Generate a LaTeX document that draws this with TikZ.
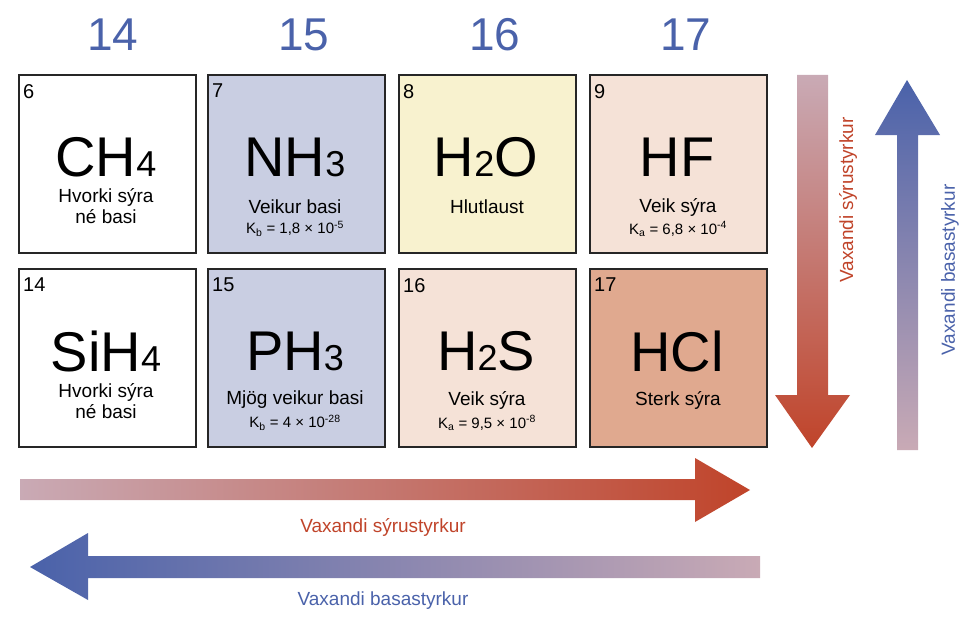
\documentclass[tikz,border=0pt]{standalone}
\usepackage{fontspec}
\setmainfont{Liberation Sans}
\usetikzlibrary{
  positioning,
  calc
}
\definecolor{grpblue}{HTML}{4A62AA}
\definecolor{acidred}{HTML}{C0442A}
\definecolor{pale}{HTML}{C9AAB5}
\definecolor{baseblue}{HTML}{C9CEE2}
\definecolor{neutral}{HTML}{F8F2CF}
\definecolor{weakacid}{HTML}{F5E2D7}
\definecolor{strongacid}{HTML}{E0A98F}
\newcommand{\lowidx}[1]{{\fontsize{36}{36}\selectfont #1}}

\begin{document}
\begin{tikzpicture}[x=1pt,y=-1pt,
  cell/.style={draw=black!85,line width=2pt,minimum width=177pt,minimum height=178pt,anchor=north west,inner sep=0pt},
  grp/.style={text=grpblue,font=\fontsize{46}{46}\selectfont},
  num/.style={font=\fontsize{20}{20}\selectfont,anchor=north west,inner sep=0pt},
  chem/.style={font=\fontsize{56}{56}\selectfont,inner sep=0pt},
  info/.style={font=\fontsize{19}{21}\selectfont,align=center,inner sep=1pt},
  kval/.style={font=\fontsize{15}{17}\selectfont,inner sep=1pt},
  ]
  \useasboundingbox (0,0) rectangle (975,618);

  % group numbers
  \foreach \x/\g in {113/14,304/15,495/16,686/17}
  \node[grp] (g\g) at (\x,35) {\g};

  % cells: name/x/y/fill/number/formula
  \foreach \n/\x/\y/\c/\z/\f in {
    c/18/74/white/6/CH\lowidx{4}, n/207/74/baseblue/7/NH\lowidx{3},
    o/398/74/neutral/8/H\lowidx{2}O, f/589/74/weakacid/9/HF,
    si/18/268/white/14/SiH\lowidx{4}, p/207/268/baseblue/15/PH\lowidx{3},
    s/398/268/weakacid/16/H\lowidx{2}S, cl/589/268/strongacid/17/HCl}
  {
    \node[cell,fill=\c] (\n) at (\x,\y) {};
    \node[num] (\n-num) at (\x+5,\y+10) {\z};
    \node[chem] (\n-f) at (\x+88,\y+83) {\f};
  }

  % descriptions
  \node[info] (c-d) at (106,206) {Hvorki sýra\\né basi};
  \node[info] (si-d) at (106,401) {Hvorki sýra\\né basi};
  \node[info] (n-d) at (295,207) {Veikur basi};
  \node[kval] (n-k) at (295,229) {K\textsubscript{b} = 1,8 × 10\textsuperscript{-5}};
  \node[info] (p-d) at (295,400) {Mjög veikur basi};
  \node[kval] (p-k) at (295,423) {K\textsubscript{b} = 4 × 10\textsuperscript{-28}};
  \node[info] (o-d) at (487,207) {Hlutlaust};
  \node[info] (f-d) at (678,207) {Veik sýra};
  \node[kval] (f-k) at (678,229) {K\textsubscript{a} = 6,8 × 10\textsuperscript{-4}};
  \node[info] (s-d) at (487,400) {Veik sýra};
  \node[kval] (s-k) at (487,423) {K\textsubscript{a} = 9,5 × 10\textsuperscript{-8}};
  \node[info] (cl-d) at (678,400) {Sterk sýra};

  % vertical arrows
  \shade[top color=pale,bottom color=acidred]
    (797,75) -- (828,75) -- (828,395) -- (850,395) -- (812,448)
    -- (775,395) -- (797,395) -- cycle;
  \shade[top color=grpblue,bottom color=pale]
    (897,450) -- (918,450) -- (918,135) -- (940,135) -- (907,80)
    -- (875,135) -- (897,135) -- cycle;
  \node[info,rotate=90,text=acidred] (acid-v) at (848,200) {Vaxandi sýrustyrkur};
  \node[info,rotate=90,text=grpblue] (base-v) at (950,270) {Vaxandi basastyrkur};

  % horizontal arrows
  \shade[left color=pale,right color=acidred]
    (20,479) -- (695,479) -- (695,458) -- (750,490) -- (695,522)
    -- (695,500) -- (20,500) -- cycle;
  \shade[left color=grpblue,right color=pale]
    (760,556) -- (88,556) -- (88,533) -- (30,567) -- (88,600)
    -- (88,578) -- (760,578) -- cycle;
  \node[info,text=acidred] (acid-h) at (383,527) {Vaxandi sýrustyrkur};
  \node[info,text=grpblue] (base-h) at (383,601) {Vaxandi basastyrkur};
\end{tikzpicture}
\end{document}
